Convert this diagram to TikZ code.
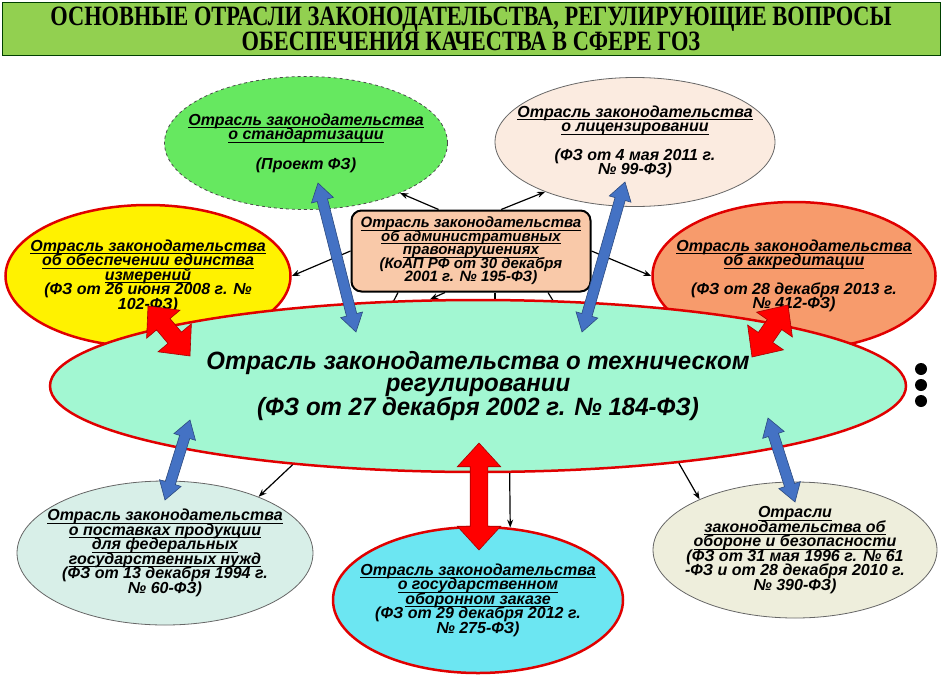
\documentclass[tikz,border=0pt]{standalone}
\usepackage{fontspec}
\setmainfont{Liberation Sans}
\newfontfamily\headfont[FakeStretch=0.8]{Liberation Serif}
\newfontfamily\techfont[FakeStretch=0.96]{Liberation Sans}
\usetikzlibrary{shapes.geometric,shapes.arrows,calc,arrows.meta}

\definecolor{titlegreen}{HTML}{92D050}
\definecolor{stdgreen}{HTML}{66E860}
\definecolor{licfill}{HTML}{FBEBE0}
\definecolor{accfill}{HTML}{F79B6C}
\definecolor{admfill}{HTML}{F9C9A9}
\definecolor{techfill}{HTML}{A2F7D2}
\definecolor{supfill}{HTML}{D8EFE8}
\definecolor{gozfill}{HTML}{6CE6F2}
\definecolor{deffill}{HTML}{EEEEDC}
\definecolor{rimred}{HTML}{E00000}
\definecolor{arrblue}{HTML}{4472C4}

% подчёркивание на постоянной глубине
\newsavebox{\ttlbox}
\newcommand{\ttl}[1]{\sbox{\ttlbox}{#1}\rlap{\rule[-2.8pt]{\wd\ttlbox}{0.9pt}}\usebox{\ttlbox}}
\newcommand{\tightlines}{\lineskiplimit=-20pt\relax}
% толстая двойная стрелка между двумя точками
\newcommand{\fatarrow}[3]{%
  \path let \p1=($(#3)-(#2)$), \n1={atan2(\y1,\x1)}, \n2={veclen(\x1,\y1)} in
    node[#1, rotate=\n1, minimum height=\n2] at ($(#2)!0.5!(#3)$) {};}

\pgfdeclarelayer{bg}
\pgfsetlayers{bg,main}

\begin{document}
\begin{tikzpicture}[
    x=1pt, y=-1pt,
    law/.style={ellipse, inner xsep=-40pt, inner ysep=-15pt, align=center,
        font=\bfseries\itshape\fontsize{16}{14.5}\selectfont\tightlines},
    redrim/.style={draw=rimred, line width=2.5pt},
    grayrim/.style={draw=gray!80!black, line width=0.8pt},
    bluearr/.style={double arrow, fill=arrblue, draw=arrblue!65!black, line width=0.6pt,
        inner sep=5pt, double arrow head extend=6pt, double arrow tip angle=65},
    redarr/.style={double arrow, fill=red, draw=red!65!black, line width=0.6pt,
        inner sep=8.5pt, double arrow head extend=13pt, double arrow tip angle=85},
    thin/.style={->, line width=1.2pt},
    >={Stealth[length=8pt, width=6pt]}
]
    \useasboundingbox (0,0) rectangle (942,675);

    % заголовок
    \node[draw=green!25!black, line width=1pt, fill=titlegreen, minimum width=938pt, minimum height=53pt,
          align=center, font=\headfont\bfseries\fontsize{28}{19}\selectfont] (title) at (471,29)
        {ОСНОВНЫЕ ОТРАСЛИ ЗАКОНОДАТЕЛЬСТВА, РЕГУЛИРУЮЩИЕ ВОПРОСЫ\\ОБЕСПЕЧЕНИЯ КАЧЕСТВА В СФЕРЕ ГОЗ};

    % верхний ряд
    \node[law, fill=stdgreen, draw=black!70, dashed, line width=0.8pt, minimum width=283pt, minimum height=133pt] (std) at (306,143)
        {\ttl{Отрасль законодательства}\\\ttl{о стандартизации}\\[15pt](Проект ФЗ)};
    \node[law, fill=licfill, grayrim, minimum width=280pt, minimum height=129pt] (lic) at (635,142)
        {\ttl{Отрасль законодательства}\\\ttl{о лицензировании}\\[14pt](ФЗ от 4 мая 2011 г.\\№ 99-ФЗ)};

    % средний ряд
    \node[law, fill=yellow, redrim, minimum width=285pt, minimum height=142pt] (yel) at (148,276)
        {\ttl{Отрасль законодательства}\\\ttl{об обеспечении единства}\\\ttl{измерений}\\(ФЗ от 26 июня 2008 г. №\\102-ФЗ)};
    \node[law, fill=accfill, redrim, minimum width=283pt, minimum height=148pt] (acc) at (794,276)
        {\ttl{Отрасль законодательства}\\\ttl{об аккредитации}\\[14pt](ФЗ от 28 декабря 2013 г.\\№ 412-ФЗ)};
    \node[rectangle, rounded corners=10pt, fill=admfill, draw=black, line width=2pt, align=center,
          font=\bfseries\itshape\fontsize{15}{13.5}\selectfont\tightlines,
          minimum width=239pt, minimum height=81pt, inner sep=2pt] (adm) at (471,251)
        {\ttl{Отрасль законодательства}\\\ttl{об административных}\\\ttl{правонарушениях}\\(КоАП РФ от 30 декабря\\2001 г. № 195-ФЗ)};

    % связи от КоАП к центральному эллипсу (под ним)
    \begin{pgfonlayer}{bg}
        \draw[line width=1.2pt] ([xshift=-73pt]adm.south) -- (388,312);
        \draw[line width=1.2pt] ([xshift=24pt]adm.south) -- (495,312);
        \draw[line width=1.2pt] ([xshift=77pt]adm.south) -- (560,312);
    \end{pgfonlayer}

    % центральный эллипс
    \node[ellipse, fill=techfill, redrim, inner sep=0pt, minimum width=856pt, minimum height=172pt, align=center,
          font=\techfont\bfseries\itshape\fontsize{25}{22}\selectfont] (tech) at (478,386)
        {Отрасль законодательства о техническом\\регулировании\\(ФЗ от 27 декабря 2002 г. № 184-ФЗ)};

    % нижний ряд
    \node[law, fill=supfill, grayrim, minimum width=296pt, minimum height=144pt] (sup) at (165,553)
        {\ttl{Отрасль законодательства}\\\ttl{о поставках продукции}\\\ttl{для федеральных}\\\ttl{государственных нужд}\\(ФЗ от 13 декабря 1994 г.\\№ 60-ФЗ)};
    \node[law, fill=gozfill, redrim, minimum width=290pt, minimum height=146pt] (goz) at (478,600)
        {\ttl{Отрасль законодательства}\\\ttl{о государственном}\\\ttl{оборонном заказе}\\(ФЗ от 29 декабря 2012 г.\\№ 275-ФЗ)};
    \node[law, fill=deffill, grayrim, minimum width=284pt, minimum height=136pt] (def) at (795,550)
        {\ttl{Отрасли}\\\ttl{законодательства об}\\\ttl{обороне и безопасности}\\(ФЗ от 31 мая 1996 г. № 61\\-ФЗ и от 28 декабря 2010 г.\\№ 390-ФЗ)};

    % многоточие справа
    \foreach \i/\yy in {1/369, 2/385, 3/401}
        \node[circle, fill=black, inner sep=0pt, minimum size=12pt] (dot\i) at (921,\yy) {};

    % тонкие стрелки
    \draw[thin] (adm.128) -- (std.-28);
    \draw[thin] (adm.54) -- (lic.-151);
    \draw[thin] (adm.west) -- (yel.east);
    \draw[thin] (adm.east) -- (acc.west);
    \draw[thin] ([xshift=-26pt]adm.south) -- (tech.119);
    \draw[thin] (tech.203) -- (sup.31);
    \draw[thin] (tech.-70) -- (goz.66);
    \draw[thin] (tech.-21) -- (def.152);

    % точки для толстых стрелок
    \coordinate (b1a) at ($(std)+(12,40)$);   \coordinate (b1b) at ($(tech)+(-122,-54)$);
    \coordinate (b2a) at ($(lic)+(-10,40)$);  \coordinate (b2b) at ($(tech)+(104,-54)$);
    \coordinate (b3a) at ($(tech)+(-288,34)$); \coordinate (b3b) at ($(sup)+(0,-53)$);
    \coordinate (b4a) at ($(tech)+(290,32)$);  \coordinate (b4b) at ($(def)+(0,-48)$);
    \coordinate (r1a) at ($(yel)+(0,30)$);    \coordinate (r1b) at ($(tech)+(-288,-30)$);
    \coordinate (r2a) at ($(acc)+(-6,29)$);   \coordinate (r2b) at ($(tech)+(274,-29)$);
    \coordinate (r3a) at ($(tech)+(1,57)$);   \coordinate (r3b) at ($(goz)+(1,-50)$);

    \fatarrow{bluearr}{b1a}{b1b}
    \fatarrow{bluearr}{b2a}{b2b}
    \fatarrow{bluearr}{b3a}{b3b}
    \fatarrow{bluearr}{b4a}{b4b}
    \fatarrow{redarr}{r1a}{r1b}
    \fatarrow{redarr}{r2a}{r2b}
    \fatarrow{redarr}{r3a}{r3b}
\end{tikzpicture}
\end{document}
